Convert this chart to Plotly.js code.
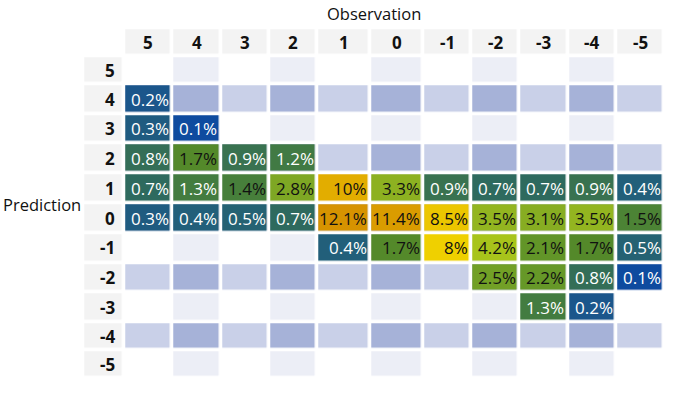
<!DOCTYPE html>
<html>
<head>
<meta charset="utf-8">
<script src="https://cdn.plot.ly/plotly-3.0.1.min.js"></script>
<style>
  html, body { margin: 0; padding: 0; background: #ffffff; }
  #chart { width: 682px; height: 399px; }
</style>
</head>
<body>
<div id="chart"></div>
<script>
// ---- data ----
const observation = ['5', '4', '3', '2', '1', '0', '-1', '-2', '-3', '-4', '-5'];
const prediction  = ['5', '4', '3', '2', '1', '0', '-1', '-2', '-3', '-4', '-5'];
// percentages, rows = prediction (5 .. -5), columns = observation (5 .. -5)
const row_p5  = [null, null, null, null, null, null, null, null, null, null, null];
const row_p4  = [0.2, null, null, null, null, null, null, null, null, null, null];
const row_p3  = [0.3, 0.1, null, null, null, null, null, null, null, null, null];
const row_p2  = [0.8, 1.7, 0.9, 1.2, null, null, null, null, null, null, null];
const row_p1  = [0.7, 1.3, 1.4, 2.8, 10, 3.3, 0.9, 0.7, 0.7, 0.9, 0.4];
const row_0   = [0.3, 0.4, 0.5, 0.7, 12.1, 11.4, 8.5, 3.5, 3.1, 3.5, 1.5];
const row_m1  = [null, null, null, null, 0.4, 1.7, 8, 4.2, 2.1, 1.7, 0.5];
const row_m2  = [null, null, null, null, null, null, null, 2.5, 2.2, 0.8, 0.1];
const row_m3  = [null, null, null, null, null, null, null, null, 1.3, 0.2, null];
const row_m4  = [null, null, null, null, null, null, null, null, null, null, null];
const row_m5  = [null, null, null, null, null, null, null, null, null, null, null];
const values = [row_p5, row_p4, row_p3, row_p2, row_p1, row_0, row_m1, row_m2, row_m3, row_m4, row_m5];

// ---- layout / style ----
const colWidths  = [37.5, 44.6, 44.6, 44.6, 44.6, 49.4, 49.4, 44.6, 44.6, 44.6, 44.6, 44.6];
const rowHeights = [24.3, 24.6, 26.2, 26.2, 26.2, 26.2, 26.2, 26.2, 26.2, 26.2, 24.6, 24.4];
const gapX = 3.6, gapY = 3.55, left0 = 85, top0 = 30;
const colorStops = [
  [0.1, '#0e4b9f'], [0.2, '#1b568b'], [0.3, '#1f5b80'], [0.5, '#256273'],
  [0.7, '#2e6a5e'], [0.9, '#397250'], [1.3, '#437c40'], [1.7, '#54892a'],
  [2.2, '#669828'], [2.8, '#7ea724'], [3.5, '#93b520'], [4.2, '#a8c41b'],
  [6.0, '#d4cc0c'], [8.0, '#efd000'], [8.5, '#ecc600'], [10, '#e2ad00'], [12.1, '#d69300']
];
const zMin = 0.1, zMax = 12.1;
const headerGray = '#f3f3f3', vLight = '#eceef6', light = '#c9d0e8', medium = '#a6b2d8';

// edges
const xEdges = [left0 - gapX / 2];
colWidths.forEach((w, k) => xEdges.push(xEdges[k] + w + gapX));
const yEdges = [top0 - gapY / 2];
rowHeights.forEach((h, k) => yEdges.push(yEdges[k] + h + gapY));
const cellLeft  = k => xEdges[k] + gapX / 2;
const cellRight = k => xEdges[k + 1] - gapX / 2;
const cellMidY  = k => (yEdges[k] + yEdges[k + 1]) / 2;

const nR = prediction.length + 1, nC = observation.length + 1;

// background (header + banding)
const bgZ = [];
for (let r = 0; r < nR; r++) {
  const row = [];
  for (let c = 0; c < nC; c++) {
    if (r === 0 && c === 0) row.push(null);
    else if (r === 0 || c === 0) row.push(1);
    else {
      const i = r - 1, j = c - 1;
      if (i % 2 === 1) row.push(j % 2 === 1 ? 4 : 3);
      else row.push(j % 2 === 1 ? 2 : null);
    }
  }
  bgZ.push(row);
}

// data grid
const dataZ = [];
for (let r = 0; r < nR; r++) {
  const row = [];
  for (let c = 0; c < nC; c++) {
    if (r === 0 || c === 0) row.push(null);
    else row.push(values[r - 1][c - 1]);
  }
  dataZ.push(row);
}

const dataScale = colorStops.map(s => [(s[0] - zMin) / (zMax - zMin), s[1]]);

const traces = [
  {
    type: 'heatmap', x: xEdges, y: yEdges, z: bgZ,
    zmin: 1, zmax: 4, xgap: gapX, ygap: gapY,
    colorscale: [[0, headerGray], [1 / 3, vLight], [2 / 3, light], [1, medium]],
    showscale: false, hoverinfo: 'skip'
  },
  {
    type: 'heatmap', x: xEdges, y: yEdges, z: dataZ,
    zmin: zMin, zmax: zMax, xgap: gapX, ygap: gapY,
    colorscale: dataScale, showscale: false, hoverinfo: 'skip'
  }
];

const annotations = [];
const baseFont = 'Open Sans, "Noto Sans", sans-serif';
// column headers
observation.forEach((lab, j) => {
  annotations.push({
    x: (cellLeft(j + 1) + cellRight(j + 1)) / 2, y: cellMidY(0), text: lab,
    xref: 'x', yref: 'y', showarrow: false, xanchor: 'center', yanchor: 'middle',
    font: { family: baseFont, size: 17, color: '#111111', weight: 'bold' }
  });
});
// row headers
prediction.forEach((lab, i) => {
  annotations.push({
    x: cellRight(0) - 6, y: cellMidY(i + 1), text: lab,
    xref: 'x', yref: 'y', showarrow: false, xanchor: 'right', yanchor: 'middle',
    font: { family: baseFont, size: 17, color: '#111111', weight: 'bold' }
  });
});
// value labels
values.forEach((row, i) => {
  row.forEach((v, j) => {
    if (v === null) return;
    annotations.push({
      x: cellRight(j + 1) - 0.5, y: cellMidY(i + 1), text: String(v) + '%',
      xref: 'x', yref: 'y', showarrow: false, xanchor: 'right', yanchor: 'middle',
      borderpad: 0,
      font: { family: baseFont, size: 17, color: v < 1.35 ? '#ffffff' : '#111111' }
    });
  });
});
// axis titles
annotations.push({
  x: 374, y: 13.5, text: 'Observation', xref: 'x', yref: 'y', showarrow: false,
  xanchor: 'center', yanchor: 'middle', font: { family: baseFont, size: 16.5, color: '#111111' }
});
annotations.push({
  x: 0.5, y: 204, text: 'Prediction', xref: 'x', yref: 'y', showarrow: false,
  xanchor: 'left', yanchor: 'middle', font: { family: baseFont, size: 16.5, color: '#111111' }
});

const layout = {
  width: 682, height: 399,
  margin: { l: 0, r: 0, t: 0, b: 0, pad: 0 },
  paper_bgcolor: '#ffffff', plot_bgcolor: '#ffffff',
  font: { family: baseFont },
  xaxis: { range: [0, 682], visible: false, fixedrange: true },
  yaxis: { range: [399, 0], visible: false, fixedrange: true },
  annotations: annotations,
  showlegend: false
};

Plotly.newPlot('chart', traces, layout, { staticPlot: true, displayModeBar: false });
</script>
</body>
</html>
